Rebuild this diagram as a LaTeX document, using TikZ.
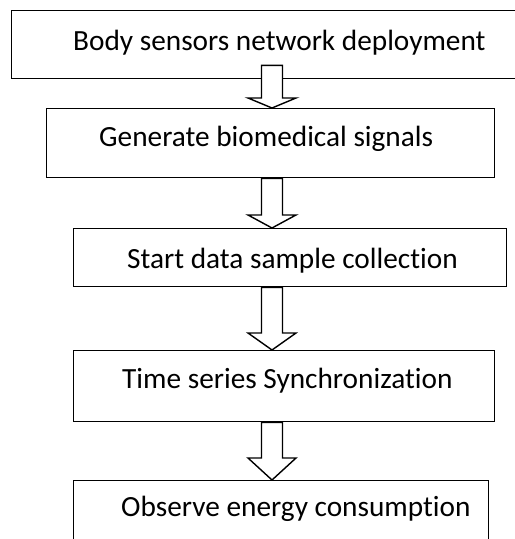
\documentclass[tikz,border=0pt]{standalone}
\usepackage{fontspec}
\setmainfont[Ligatures=CommonOff]{Carlito}
\usetikzlibrary{calc}
\tikzset{
  box/.style={draw, line width=1.4bp, rectangle, inner sep=0pt, anchor=north west},
  txt/.style={anchor=base west, inner sep=0pt, font=\fontsize{29.3bp}{35bp}\selectfont},
  fat/.style={draw, fill=white, line width=1.4bp, line join=miter}
}
\newcommand{\fatarrow}[3]{%
  \draw[fat] let \p1=(#1), \p2=(#2) in
    (\x1-10.5bp,\y1) -- (\x1+10.5bp,\y1) -- (\x1+10.5bp,\y2+#3) -- (\x1+24bp,\y2+#3)
    -- (\x2,\y2) -- (\x1-24bp,\y2+#3) -- (\x1-10.5bp,\y2+#3) -- cycle;}
\begin{document}
\begin{tikzpicture}[x=1bp,y=-1bp]
\useasboundingbox (0,0) rectangle (515,539);
\node[box, minimum width=530bp, minimum height=68bp] (b1) at (11,10) {};
\node[box, minimum width=448bp, minimum height=69bp] (b2) at (46,108) {};
\node[box, minimum width=433bp, minimum height=58bp] (b3) at (73,228) {};
\node[box, minimum width=421bp, minimum height=71bp] (b4) at (73,350) {};
\node[box, minimum width=415bp, minimum height=80bp] (b5) at (73,480) {};
\node[txt] (t1) at (73,51) {Body sensors network deployment};
\node[txt] (t2) at (99,147) {Generate biomedical signals};
\node[txt] (t3) at (127,268) {Start data sample collection};
\node[txt] (t4) at (122,388) {Time series Synchronization};
\node[txt] (t5) at (121,516) {Observe energy consumption};
\coordinate (ax) at (272,0);
\coordinate (s1) at ($(ax |- b1.south)+(0,-14)$);
\fatarrow{s1}{ax |- b2.north}{10bp}
\fatarrow{ax |- b2.south}{ax |- b3.north}{13bp}
\fatarrow{ax |- b3.south}{ax |- b4.north}{17bp}
\fatarrow{ax |- b4.south}{ax |- b5.north}{22bp}
\end{tikzpicture}
\end{document}
